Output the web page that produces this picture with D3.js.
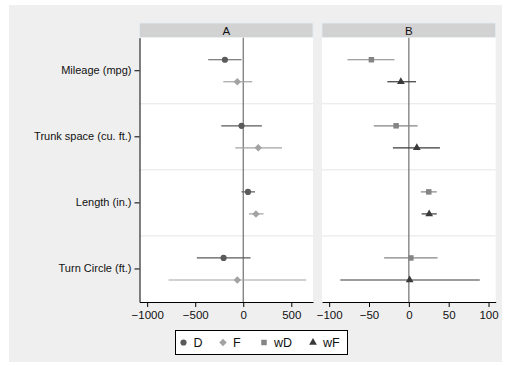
<!DOCTYPE html>
<html>
<head>
<meta charset="utf-8">
<script src="https://cdn.jsdelivr.net/npm/d3@7"></script>
<style>
  body { margin: 0; background: #fff; }
  svg { display: block; font-family: "Liberation Sans", Arial, Helvetica, sans-serif; }
</style>
</head>
<body>
<svg id="chart" width="505" height="366"></svg>
<script>
// variables shown on the y axis
const categories = ['Mileage (mpg)', 'Trunk space (cu. ft.)', 'Length (in.)', 'Turn Circle (ft.) '];

// panel A: D and F (estimate, lower, upper)
const dEst = [-191, -18, 49, -205];
const dLo  = [-365, -229, -18, -483];
const dHi  = [-18, 194, 122, 76];
const fEst = [-62, 156, 132, -62];
const fLo  = [-208, -83, 59, -778];
const fHi  = [94, 403, 212, 656];

// panel B: wD and wF
const wdEst = [-47, -16, 25, 2.5];
const wdLo  = [-77, -44, 15, -31];
const wdHi  = [-18, 11, 35, 36];
const wfEst = [-10, 10, 25.5, 1];
const wfLo  = [-27, -20, 16, -86];
const wfHi  = [9, 39, 35, 89];

const ticksA = [-1000, -500, 0, 500];
const ticksB = [-100, -50, 0, 50, 100];

const svg = d3.select('#chart');
svg.append('rect').attr('x', 9).attr('y', 5).attr('width', 493).attr('height', 357).attr('fill', '#efefef');

const plotTop = 37.7, plotBottom = 302;
const y = d3.scaleBand().domain(categories).range([plotTop, plotBottom]);
const off = y.bandwidth() / 6;

const styles = {
  D:  { color: '#5a5a5a', shape: d3.symbolCircle, size: 30 },
  F:  { color: '#a3a3a3', shape: d3.symbolDiamond2, size: 36 },
  wD: { color: '#848484', shape: d3.symbolSquare, size: 30 },
  wF: { color: '#3a3a3a', shape: d3.symbolTriangle, size: 26 }
};

function series(key, est, lo, hi, dy) {
  return categories.map((c, i) => ({ key, cat: c, est: est[i], lo: lo[i], hi: hi[i], dy }));
}

const panels = [
  { title: 'A', x0: 139.5, x1: 313, domain: [-1080, 726], ticks: ticksA,
    data: [series('D', dEst, dLo, dHi, -off), series('F', fEst, fLo, fHi, off)] },
  { title: 'B', x0: 322, x1: 495.7, domain: [-109, 109], ticks: ticksB,
    data: [series('wD', wdEst, wdLo, wdHi, -off), series('wF', wfEst, wfLo, wfHi, off)] }
];

const fmt = d => (d < 0 ? '\u2212' + Math.abs(d) : String(d));

panels.forEach((p, pi) => {
  const x = d3.scaleLinear().domain(p.domain).range([p.x0, p.x1]);
  const g = svg.append('g');

  // strip header
  g.append('rect').attr('x', p.x0).attr('y', 23).attr('width', p.x1 - p.x0).attr('height', plotTop - 23)
    .attr('fill', '#d2d2d2').attr('stroke', '#e4eef2').attr('stroke-width', 0.8);
  g.append('text').attr('x', (p.x0 + p.x1) / 2).attr('y', 34.5).attr('text-anchor', 'middle')
    .attr('font-size', 11.5).attr('fill', '#111').text(p.title);

  // plot area
  g.append('rect').attr('x', p.x0).attr('y', plotTop).attr('width', p.x1 - p.x0).attr('height', plotBottom - plotTop)
    .attr('fill', '#fff');

  // band separators
  g.selectAll('line.sep').data(categories.slice(1)).enter().append('line')
    .attr('x1', p.x0).attr('x2', p.x1)
    .attr('y1', d => y(d)).attr('y2', d => y(d))
    .attr('stroke', '#e6e6e6').attr('stroke-width', 1);

  // zero line
  g.append('line').attr('x1', x(0)).attr('x2', x(0)).attr('y1', plotTop).attr('y2', plotBottom)
    .attr('stroke', '#707070').attr('stroke-width', 1.2);

  // x axis
  const ax = g.append('g').attr('transform', `translate(0,${plotBottom})`)
    .call(d3.axisBottom(x).tickValues(p.ticks).tickFormat(fmt).tickSize(5).tickSizeOuter(0));
  ax.select('.domain').attr('stroke', '#000');
  ax.selectAll('.tick line').attr('stroke', '#000');
  ax.selectAll('.tick text').attr('font-size', 11.5).attr('fill', '#111').attr('dy', '0.75em')
    .attr('font-family', '"Liberation Sans", Arial, sans-serif');

  // y axis on the first panel only
  if (pi === 0) {
    const ay = g.append('g').attr('transform', `translate(${p.x0},0)`)
      .call(d3.axisLeft(y).tickSize(5).tickSizeOuter(0).tickPadding(3));
    ay.select('.domain').attr('stroke', '#000');
    ay.selectAll('.tick line').attr('stroke', '#000');
    ay.selectAll('.tick text').attr('font-size', 11).attr('fill', '#111')
      .attr('font-family', '"Liberation Sans", Arial, sans-serif');
  }

  // confidence intervals and point estimates
  p.data.forEach(s => {
    const st = styles[s[0].key];
    g.selectAll(null).data(s).enter().append('line')
      .attr('x1', d => x(d.lo)).attr('x2', d => x(d.hi))
      .attr('y1', d => y(d.cat) + y.bandwidth() / 2 + d.dy)
      .attr('y2', d => y(d.cat) + y.bandwidth() / 2 + d.dy)
      .attr('stroke', st.color).attr('stroke-width', 1.2);
    g.selectAll(null).data(s).enter().append('path')
      .attr('d', d3.symbol().type(st.shape).size(st.size))
      .attr('transform', d => `translate(${x(d.est)},${y(d.cat) + y.bandwidth() / 2 + d.dy})`)
      .attr('fill', st.color);
  });
});

// legend
const legendKeys = ['D', 'F', 'wD', 'wF'];
const legendPos = [183.5, 223, 264, 313];
const lg = svg.append('g');
lg.append('rect').attr('x', 175.5).attr('y', 330.5).attr('width', 172).attr('height', 24)
  .attr('fill', '#fff').attr('stroke', '#000').attr('stroke-width', 1);
legendKeys.forEach((k, i) => {
  const st = styles[k];
  lg.append('path').attr('d', d3.symbol().type(st.shape).size(st.size))
    .attr('transform', `translate(${legendPos[i]},342.5)`).attr('fill', st.color);
  lg.append('text').attr('x', legendPos[i] + 10).attr('y', 347).attr('font-size', 12.5)
    .attr('fill', '#111').text(k);
});
</script>
</body>
</html>
